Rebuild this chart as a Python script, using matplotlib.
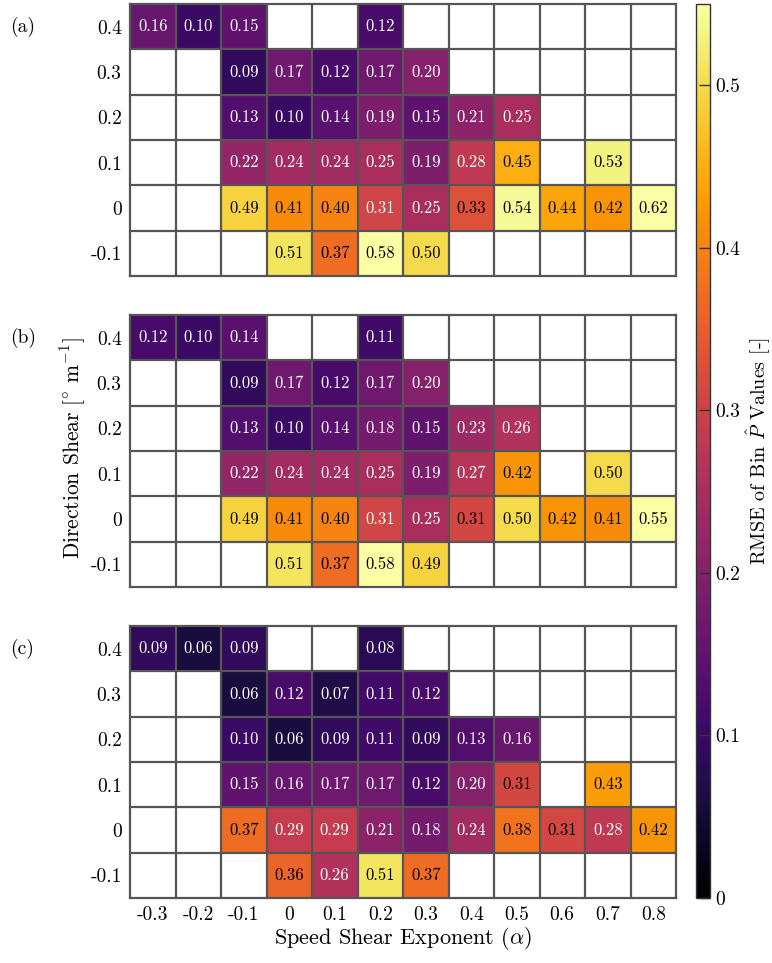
import numpy as np
import matplotlib
matplotlib.use("Agg")
import matplotlib.pyplot as plt
from matplotlib.colors import Normalize

plt.rcParams["font.family"] = "serif"
plt.rcParams["font.serif"] = ["cmr10", "DejaVu Serif"]
plt.rcParams["mathtext.fontset"] = "cm"
plt.rcParams["axes.unicode_minus"] = False

nan = np.nan

speed_shear = ["-0.3", "-0.2", "-0.1", "0", "0.1", "0.2", "0.3", "0.4", "0.5", "0.6", "0.7", "0.8"]
direction_shear = ["0.4", "0.3", "0.2", "0.1", "0", "-0.1"]

rmse_a = [
    [0.16, 0.10, 0.15, nan, nan, 0.12, nan, nan, nan, nan, nan, nan],
    [nan, nan, 0.09, 0.17, 0.12, 0.17, 0.20, nan, nan, nan, nan, nan],
    [nan, nan, 0.13, 0.10, 0.14, 0.19, 0.15, 0.21, 0.25, nan, nan, nan],
    [nan, nan, 0.22, 0.24, 0.24, 0.25, 0.19, 0.28, 0.45, nan, 0.53, nan],
    [nan, nan, 0.49, 0.41, 0.40, 0.308, 0.25, 0.33, 0.54, 0.44, 0.42, 0.62],
    [nan, nan, nan, 0.51, 0.37, 0.58, 0.50, nan, nan, nan, nan, nan],
]
rmse_b = [
    [0.12, 0.10, 0.14, nan, nan, 0.11, nan, nan, nan, nan, nan, nan],
    [nan, nan, 0.09, 0.17, 0.12, 0.17, 0.20, nan, nan, nan, nan, nan],
    [nan, nan, 0.13, 0.10, 0.14, 0.18, 0.15, 0.23, 0.26, nan, nan, nan],
    [nan, nan, 0.22, 0.24, 0.24, 0.25, 0.19, 0.27, 0.42, nan, 0.50, nan],
    [nan, nan, 0.49, 0.41, 0.40, 0.308, 0.25, 0.312, 0.50, 0.42, 0.41, 0.55],
    [nan, nan, nan, 0.51, 0.37, 0.58, 0.49, nan, nan, nan, nan, nan],
]
rmse_c = [
    [0.09, 0.06, 0.09, nan, nan, 0.08, nan, nan, nan, nan, nan, nan],
    [nan, nan, 0.06, 0.12, 0.07, 0.11, 0.12, nan, nan, nan, nan, nan],
    [nan, nan, 0.10, 0.06, 0.09, 0.11, 0.09, 0.13, 0.16, nan, nan, nan],
    [nan, nan, 0.15, 0.16, 0.17, 0.17, 0.12, 0.20, 0.312, nan, 0.43, nan],
    [nan, nan, 0.37, 0.29, 0.29, 0.21, 0.18, 0.24, 0.38, 0.312, 0.28, 0.42],
    [nan, nan, nan, 0.36, 0.26, 0.51, 0.37, nan, nan, nan, nan, nan],
]
panel_labels = ["(a)", "(b)", "(c)"]
cbar_ticks = [0, 0.1, 0.2, 0.3, 0.4, 0.5]
cbar_ticklabels = ["0", "0.1", "0.2", "0.3", "0.4", "0.5"]

W, H = 772, 963
fig = plt.figure(figsize=(W / 100, H / 100), dpi=100)

def frac(x0, y0, x1, y1):
    return [x0 / W, 1 - y1 / H, (x1 - x0) / W, (y1 - y0) / H]

panel_boxes = [(130, 4, 676, 276), (130, 315, 676, 587), (130, 626, 676, 898)]
cmap = plt.get_cmap("inferno")
norm = Normalize(vmin=0, vmax=0.55)
grid_col = "#555555"

mesh = None
for data, box, lab in zip([rmse_a, rmse_b, rmse_c], panel_boxes, panel_labels):
    ax = fig.add_axes(frac(*box))
    arr = np.ma.masked_invalid(np.array(data, dtype=float))
    nr, nc = arr.shape
    mesh = ax.pcolormesh(np.arange(nc + 1), np.arange(nr + 1), arr, cmap=cmap, norm=norm)
    ax.set_xlim(0, nc)
    ax.set_ylim(nr, 0)
    for i in range(nr):
        for j in range(nc):
            v = arr[i, j]
            if np.ma.is_masked(v):
                continue
            ax.text(j + 0.5, i + 0.5, f"{v:.2f}", ha="center", va="center",
                    fontsize=12, color="black" if v > 0.31 else "white")
    for k in range(1, nc):
        ax.axvline(k, color=grid_col, lw=1.6)
    for k in range(1, nr):
        ax.axhline(k, color=grid_col, lw=1.6)
    for s in ax.spines.values():
        s.set_color(grid_col)
        s.set_linewidth(1.6)
    ax.set_yticks(np.arange(nr) + 0.5)
    ax.set_yticklabels(direction_shear, fontsize=14)
    ax.set_xticks(np.arange(nc) + 0.5)
    if lab == "(c)":
        ax.set_xticklabels(speed_shear, fontsize=14)
    else:
        ax.set_xticklabels([])
    ax.tick_params(axis="y", length=0, pad=6)
    ax.tick_params(axis="x", length=0, pad=6)
    fig.text(10 / W, 1 - (box[1] + 23) / H, lab, fontsize=14, va="center", ha="left")

cax = fig.add_axes(frac(696, 4, 710, 898))
cb = fig.colorbar(mesh, cax=cax, ticks=cbar_ticks)
cb.set_ticklabels(cbar_ticklabels)
cb.ax.tick_params(direction="in", length=8, width=1, labelsize=14, color="#333333")
cb.outline.set_linewidth(1.0)
cb.outline.set_edgecolor("#333333")

fig.text(759 / W, 1 - 451 / H, r"RMSE of Bin $\hat{P}$ Values [-]", rotation=90,
         fontsize=14.5, ha="center", va="center")
fig.text(73 / W, 1 - 448 / H, r"Direction Shear [$^{\circ}$ m$^{-1}$]", rotation=90,
         fontsize=15.5, ha="center", va="center")
fig.text(403 / W, 1 - 944 / H, r"Speed Shear Exponent ($\alpha$)",
         fontsize=16, ha="center", va="baseline")

fig.savefig("out.png", dpi=100)
